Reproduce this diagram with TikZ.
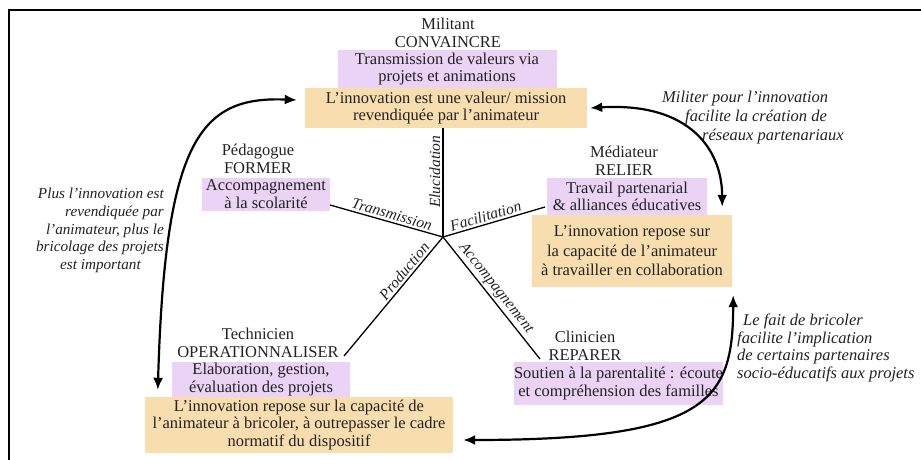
\documentclass[tikz,border=0pt]{standalone}
\usepackage{fontspec}
\setmainfont{Liberation Serif}
\usepackage{tikz}
\usetikzlibrary{arrows.meta,positioning}
\definecolor{mauveBg}{HTML}{EBD3F5}
\definecolor{ocreBg}{HTML}{F8DDAE}
\definecolor{ink}{HTML}{222222}
\def\txt{\fontsize{16.5}{17.5}\selectfont}

\begin{document}
\begin{tikzpicture}[x=1pt, y=-1pt, every node/.style={text=ink, font=\txt, inner sep=0pt, align=center}, role/.style={}, mauve/.style={fill=mauveBg}, ocre/.style={fill=ocreBg}, remark/.style={font=\txt\itshape}, axe/.style={font=\fontsize{15.5}{16}\selectfont\itshape, sloped, above, inner sep=2pt}, link/.style={line width=2.2pt, {Latex[length=12pt,width=10pt]}-{Latex[length=12pt,width=10pt]}}]
    \useasboundingbox (0,0) rectangle (921,460);
    \draw[line width=2.5pt] (9,460) -- (9,10) -- (921,10);

    % Militant
    \node[role] (militant) at (448,33) {Militant\\CONVAINCRE};
    \node[mauve, minimum width=219pt, minimum height=38pt] (militantTask) at (447,69) {Transmission de valeurs via\\projets et animations};
    \node[ocre, minimum width=282pt, minimum height=40pt] (militantBelief) at (446,108) {L'innovation est une valeur/ mission\\revendiquée par l'animateur};

    % Pedagogue
    \node[role] (pedagogue) at (258,159) {Pédagogue\\FORMER};
    \node[mauve, minimum width=128pt, minimum height=33pt] (pedagogueTask) at (266,194) {Accompagnement\\à la scolarité};

    % Mediateur
    \node[role] (mediateur) at (624,161) {Médiateur\\RELIER};
    \node[mauve, minimum width=160pt, minimum height=37pt] (mediateurTask) at (627,196.5) {Travail partenarial\\\& alliances éducatives};
    \node[ocre, minimum width=200pt, minimum height=72pt, font=\fontsize{16.5}{19.5}\selectfont] (mediateurBelief) at (632,251) {L'innovation repose sur\\la capacité de l'animateur\\à travailler en collaboration};

    % Technicien
    \node[role] (technicien) at (258,343) {Technicien\\OPERATIONNALISER};
    \node[mauve, minimum width=178pt, minimum height=35pt] (technicienTask) at (261,379.5) {Elaboration, gestion,\\évaluation des projets};
    \node[ocre, minimum width=308pt, minimum height=56pt] (technicienBelief) at (299,425) {L'innovation repose sur la capacité de\\l'animateur à bricoler, à outrepasser le cadre\\normatif du dispositif};

    % Clinicien
    \node[role] (clinicien) at (585,346) {Clinicien\\REPARER};
    \node[mauve, minimum width=173pt, minimum height=43pt] (clinicienTask) at (618.5,383.5) {Soutien à la parentalité : écoute\\et compréhension des familles};

    % star
    \coordinate (hub) at (443,237);
    \coordinate (endForm) at (330,205);
    \coordinate (endRelier) at (545,207);
    \coordinate (endTech) at (344,356);
    \coordinate (endClin) at (540,359);
    \draw[line width=1.3pt] (hub) -- node[axe, pos=0.6] {Elucidation} (hub |- militantBelief.south);
    \draw[line width=1.3pt] (hub) -- node[axe, pos=0.47] {Transmission} (endForm);
    \draw[line width=1.3pt] (hub) -- node[axe, pos=0.44] {Facilitation} (endRelier);
    \draw[line width=1.3pt] (hub) -- node[axe, pos=0.33] {Production} (endTech);
    \draw[line width=1.3pt] (hub) -- node[axe, pos=0.47] {Accompagnement} (endClin);

    % links between beliefs
    \draw[link] ([xshift=-8pt, yshift=8pt]militantBelief.west) .. controls (200,96) and (165,140) .. ([xshift=13pt, yshift=7pt]technicienBelief.north west);
    \draw[link] ([xshift=3pt]militantBelief.east) .. controls (690,102) and (722,150) .. ([xshift=-10pt, yshift=8pt]mediateurBelief.north east);
    \draw[link] ([xshift=10pt, yshift=-15pt]technicienBelief.east) .. controls (710,440) and (733,400) .. ([xshift=1pt, yshift=-8pt]mediateurBelief.south east);

    % remarks
    \node[remark, align=right, anchor=north east, font=\fontsize{15.2}{17.7}\selectfont\itshape] (remarkLeft) at (164,188) {Plus l'innovation est\\revendiquée par\hspace*{11pt}\\l'animateur, plus le\hspace*{10pt}\\bricolage des projets\hspace*{20pt}\\est important\hspace*{23pt}};
    \node[remark, align=left, anchor=north west, font=\fontsize{16.5}{19}\selectfont\itshape] (remarkTop) at (662,91) {Militer pour l'innovation\\\hspace*{23pt}facilite la création de\\\hspace*{40pt}réseaux partenariaux};
    \node[remark, align=left, anchor=north west] (remarkRight) at (737,314) {\hspace*{6pt}Le fait de bricoler\\facilite l'implication\\de certains partenaires\\socio-éducatifs aux projets};
\end{tikzpicture}
\end{document}
